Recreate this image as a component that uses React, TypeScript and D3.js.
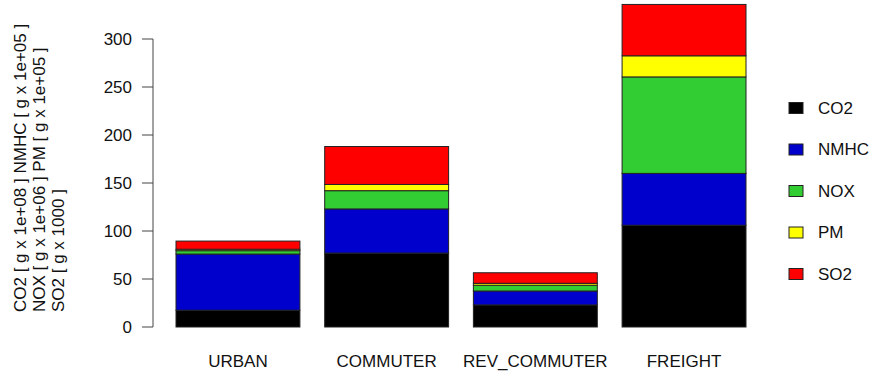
import React from "react";
import * as d3 from "d3";

// Route categories and pollutant series (stacked, scaled units)
const categories = ["URBAN", "COMMUTER", "REV_COMMUTER", "FREIGHT"];
const seriesNames = ["CO2", "NMHC", "NOX", "PM", "SO2"];
const co2 = [17.5, 77, 23, 106];
const nmhc = [58.5, 46, 14.5, 54];
const nox = [3.5, 19, 6, 100.5];
const pm = [1.5, 6.5, 2, 22];
const so2 = [8.5, 39.5, 11, 53.5];
const seriesColors = ["#000000", "#0000CD", "#32CD32", "#FFFF00", "#FF0000"];
const yTicks = [0, 50, 100, 150, 200, 250, 300];
const yLabelLines = [
  "CO2  [ g x  1e+08 ] NMHC  [ g x  1e+05 ]",
  "NOX  [ g x  1e+06 ] PM  [ g x  1e+05 ]",
  "SO2  [ g x  1000 ]",
];

const W = 870;
const H = 376;
const FONT = "'Liberation Sans', Arial, Helvetica, sans-serif";
const FS = 17;

export default function App() {
  const values = [co2, nmhc, nox, pm, so2];
  const rows = categories.map((c, i) => {
    const r: Record<string, number | string> = { cat: c };
    seriesNames.forEach((s, j) => (r[s] = values[j][i]));
    return r;
  });
  const stack = d3.stack<any>().keys(seriesNames)(rows);

  const y = d3.scaleLinear().domain([0, 300]).range([327, 39]);
  // bar slots: width 1, gap 0.2 (barplot-style units)
  const x = d3.scaleLinear().domain([0.2, 4.8]).range([176, 746]);
  const barW = x(1) - x(0);
  const left = (i: number) => x(0.2 + i * 1.2);

  const axisX = 153;
  const legendX = 789;
  const legendY0 = 108;
  const legendStep = 41.5;

  return (
    <svg width={W} height={H} style={{ position: "absolute", left: 0, top: 0 }} fontFamily={FONT}>
      <rect x={0} y={0} width={W} height={H} fill="#fff" />
      {/* stacked bars */}
      {stack.map((layer, j) =>
        layer.map((d, i) => (
          <rect
            key={`${j}-${i}`}
            x={left(i)}
            y={y(d[1])}
            width={barW}
            height={y(d[0]) - y(d[1])}
            fill={seriesColors[j]}
            stroke="#222"
            strokeWidth={1}
          />
        ))
      )}
      {/* y axis */}
      <line x1={axisX} x2={axisX} y1={y(0)} y2={y(300)} stroke="#444" strokeWidth={1} />
      {yTicks.map((t) => (
        <g key={t}>
          <line x1={axisX - 11} x2={axisX} y1={y(t)} y2={y(t)} stroke="#444" strokeWidth={1} />
          <text x={axisX - 21} y={y(t)} dy="0.35em" textAnchor="end" fontSize={FS} fill="#111">
            {t}
          </text>
        </g>
      ))}
      {/* category labels */}
      {categories.map((c, i) => (
        <text key={c} x={left(i) + barW / 2} y={367} textAnchor="middle" fontSize={FS} fill="#111">
          {c}
        </text>
      ))}
      {/* y label, three lines */}
      {yLabelLines.map((l, k) => (
        <text
          key={k}
          transform={`translate(${26 + k * 19},312) rotate(-90)`}
          textAnchor="start"
          fontSize={FS}
          fill="#111"
        >
          {l}
        </text>
      ))}
      {/* legend */}
      {seriesNames.map((s, j) => (
        <g key={s} transform={`translate(0,${legendY0 + j * legendStep})`}>
          <rect x={legendX} y={-5.5} width={14} height={11} fill={seriesColors[j]} stroke="#222" strokeWidth={1} />
          <text x={818} y={0} dy="0.35em" fontSize={FS} fill="#111">
            {s}
          </text>
        </g>
      ))}
    </svg>
  );
}
